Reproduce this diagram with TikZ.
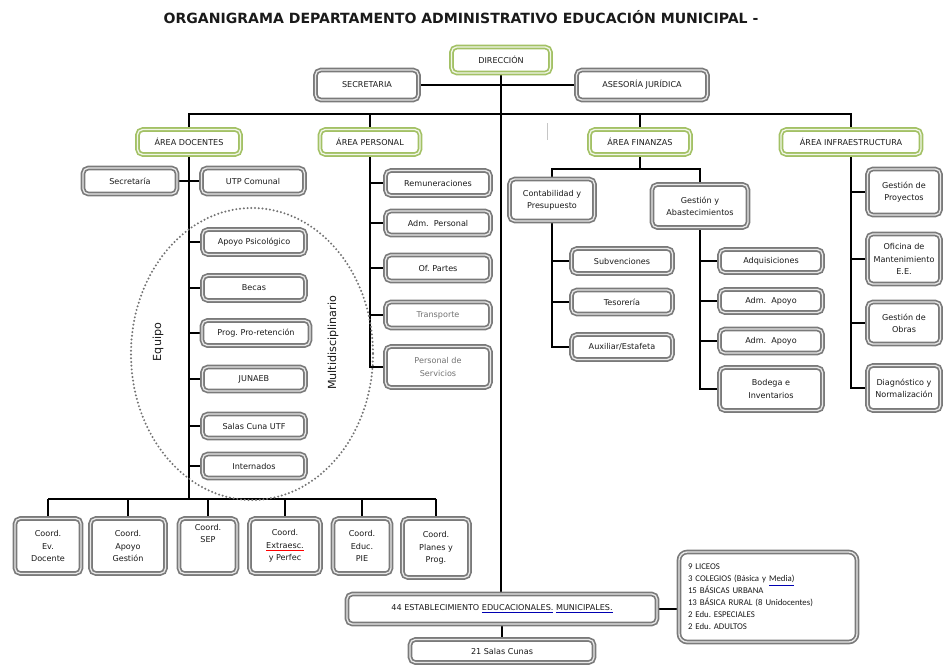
\documentclass[tikz,border=0pt]{standalone}
\usepackage{fontspec}
\setmainfont{DejaVu Sans}
\newfontfamily\calib{Carlito}
\usetikzlibrary{backgrounds}
\definecolor{bordergray}{HTML}{7A7A7A}
\definecolor{areagreen}{HTML}{A3C165}
\definecolor{txt}{HTML}{1A1A1A}
\newcommand\redul[1]{{\color{red}\underline{\color{txt}#1}}}
\newcommand\blueul[1]{{\color{blue!70!black}\underline{\color{txt}#1}}}
\frenchspacing
\begin{document}
\begin{tikzpicture}[x=0.03cm,y=-0.03cm,
  every node/.style={font=\fontsize{6.9}{10.5}\selectfont, text=txt, align=center, inner sep=1pt},
  gbox/.style={draw=bordergray, line width=1.45pt, double=black!9, double distance=1.1pt, rounded corners=4.5pt},
  abox/.style={gbox, draw=areagreen, double=areagreen!15},
  sz/.style 2 args={minimum width=#1*0.03cm, minimum height=#2*0.03cm},
  conn/.style={line width=2pt, draw=black},
  softtxt/.style={text=black!55},
]
\useasboundingbox (0,0) rectangle (945,666);
% title
\node[font=\bfseries\fontsize{12}{14}\selectfont] (title) at (461,17) {ORGANIGRAMA DEPARTAMENTO ADMINISTRATIVO EDUCACIÓN MUNICIPAL -};
% top
\node[abox, sz={99}{26}] (dir) at (501,60) {DIRECCIÓN};
\node[gbox, sz={103}{30}] (sec) at (367,85) {SECRETARIA};
\node[gbox, sz={131}{30}] (ase) at (642,85) {ASESORÍA JURÍDICA};
% areas
\node[abox, sz={103}{25}] (adoc) at (189,142) {ÁREA DOCENTES};
\node[abox, sz={100}{25}] (aper) at (370,142) {ÁREA PERSONAL};
\node[abox, sz={101}{25}] (afin) at (640,142) {ÁREA FINANZAS};
\node[abox, sz={140}{25}] (ainf) at (851,142) {ÁREA INFRAESTRUCTURA};
% docentes
\node[gbox, sz={94}{26}] (secd) at (130,181) {Secretaría};
\node[gbox, sz={103}{26}] (utp) at (253,181) {UTP Comunal};
\node[gbox, sz={103}{25}] (apo) at (254,242) {Apoyo Psicológico};
\node[gbox, sz={103}{25}] (bec) at (254,288) {Becas};
\node[gbox, sz={108}{25}] (pro) at (256,333) {Prog. Pro-retención};
\node[gbox, sz={103}{24}] (jun) at (254,379) {JUNAEB};
\node[gbox, sz={103}{24}] (scu) at (254,426) {Salas Cuna UTF};
\node[gbox, sz={103}{24}] (int) at (254,466) {Internados};
\draw[line width=1.9pt, black!55, dash pattern=on 0pt off 3.2pt, line cap=round] (252,354) ellipse [x radius=121, y radius=146];
\node[rotate=90, font=\fontsize{9.5}{11}\selectfont] (eq) at (158,342) {Equipo};
\node[rotate=90, font=\fontsize{9.5}{11}\selectfont] (mu) at (333,343) {Multidisciplinario};
% coordinaciones
\node[gbox, sz={66}{55}] (c1) at (48,546) {Coord.\\Ev.\\Docente};
\node[gbox, sz={75}{55}] (c2) at (128,546) {Coord.\\Apoyo\\Gestión};
\node[gbox, sz={58}{55}] (c3) at (208,546) {Coord.\\SEP\\[10.5pt]};
\node[gbox, sz={71}{55}] (c4) at (285,546) {Coord.\\\redul{Extraesc.}\\y Perfec};
\node[gbox, sz={58}{55}] (c5) at (362,546) {Coord.\\Educ.\\PIE};
\node[gbox, sz={67}{59}] (c6) at (436,548) {Coord.\\Planes y\\Prog.};
% personal
\node[gbox, sz={105}{25}] (rem) at (438,183) {Remuneraciones};
\node[gbox, sz={105}{24}] (adp) at (438,223) {Adm.~ Personal};
\node[gbox, sz={105}{26}] (ofp) at (438,268) {Of. Partes};
\node[gbox, sz={105}{26}, softtxt] (tra) at (438,315) {Transporte};
\node[gbox, sz={105}{41}, softtxt] (pse) at (438,367) {Personal de\\Servicios};
% finanzas
\node[gbox, sz={85}{42}] (cont) at (552,200) {Contabilidad y\\Presupuesto};
\node[gbox, sz={96}{43}] (gest) at (700,206) {Gestión y\\Abastecimientos};
\node[gbox, sz={101}{25}] (subv) at (622,261) {Subvenciones};
\node[gbox, sz={101}{24}] (teso) at (622,302) {Tesorería};
\node[gbox, sz={101}{25}] (aux) at (622,347) {Auxiliar/Estafeta};
\node[gbox, sz={103}{23}] (adq) at (771,261) {Adquisiciones};
\node[gbox, sz={103}{23}] (ap1) at (771,301) {Adm.~ Apoyo};
\node[gbox, sz={103}{24}] (ap2) at (771,341) {Adm.~ Apoyo};
\node[gbox, sz={103}{43}] (bod) at (771,389) {Bodega e\\Inventarios};
% infraestructura
\node[gbox, sz={73}{46}] (gp) at (904,192) {Gestión de\\Proyectos};
\node[gbox, sz={73}{50}] (ofm) at (904,259) {Oficina de\\Mantenimiento\\E.E.};
\node[gbox, sz={73}{42}] (go) at (904,323) {Gestión de\\Obras};
\node[gbox, sz={73}{45}] (dn) at (904,388) {Diagnóstico y\\Normalización};
% bottom
\node[gbox, sz={310}{30}] (est) at (502,609) {44 ESTABLECIMIENTO \blueul{EDUCACIONALES.}~\blueul{MUNICIPALES.}};
\node[gbox, sz={184}{23}] (sal) at (502,651) {21 Salas Cunas};
\node[gbox, sz={178}{90}, rounded corners=7pt, align=left, text width=160*0.03cm, font=\calib\fontsize{7.5}{10.2}\selectfont] (lic) at (768,597) {9 LICEOS\\3 COLEGIOS (Básica y \blueul{Media)}\\15 BÁSICAS URBANA\\13 BÁSICA RURAL (8 Unidocentes)\\2 Edu. ESPECIALES\\2 Edu. ADULTOS};
\coordinate (m1) at (547,123);
\coordinate (m2) at (547,140);
\draw[gray!45, line width=0.6pt] (m1) -- (m2);
% connectors
\begin{scope}[on background layer]
\fill[white] (0,0) rectangle (945,666);
\coordinate (barY) at (0,114);
\coordinate (dbar) at (0,499);
\coordinate (fbar) at (0,169);
\draw[conn] (dir.south) -- (dir.south |- est.north);
\draw[conn] (sec.east) -- (ase.west);
\draw[conn] (adoc.north) -- (adoc.north |- barY) -- (ainf.north |- barY) -- (ainf.north);
\draw[conn] (aper.north) -- (aper.north |- barY);
\draw[conn] (afin.north) -- (afin.north |- barY);
% docentes
\draw[conn] (adoc.south) -- (adoc.south |- dbar);
\draw[conn] (secd.east) -- (utp.west);
\foreach \n in {apo,bec,pro,jun,scu,int} \draw[conn] (\n.west) -- (\n.west -| adoc.south);
\draw[conn] (c1.north |- dbar) -- (c6.north |- dbar);
\foreach \n in {c1,c2,c3,c4,c5,c6} \draw[conn] (\n.north |- dbar) -- (\n.north);
% personal
\draw[conn] (aper.south) -- (aper.south |- pse.west) -- (pse.west);
\foreach \n in {rem,adp,ofp,tra} \draw[conn] (\n.west -| aper.south) -- (\n.west);
% finanzas
\draw[conn] (afin.south) -- (afin.south |- fbar);
\draw[conn] (cont.north) -- (cont.north |- fbar) -- (gest.north |- fbar) -- (gest.north);
\draw[conn] (cont.south) -- (cont.south |- aux.west) -- (aux.west);
\foreach \n in {subv,teso} \draw[conn] (\n.west -| cont.south) -- (\n.west);
\draw[conn] (gest.south) -- (gest.south |- bod.west) -- (bod.west);
\foreach \n in {adq,ap1,ap2} \draw[conn] (\n.west -| gest.south) -- (\n.west);
% infraestructura
\draw[conn] (ainf.south) -- (ainf.south |- dn.west) -- (dn.west);
\foreach \n in {gp,ofm,go} \draw[conn] (\n.west -| ainf.south) -- (\n.west);
% bottom
\draw[conn] (est.south) -- (sal.north);
\draw[conn] (est.east) -- (est.east -| lic.west);
\end{scope}
\end{tikzpicture}
\end{document}
